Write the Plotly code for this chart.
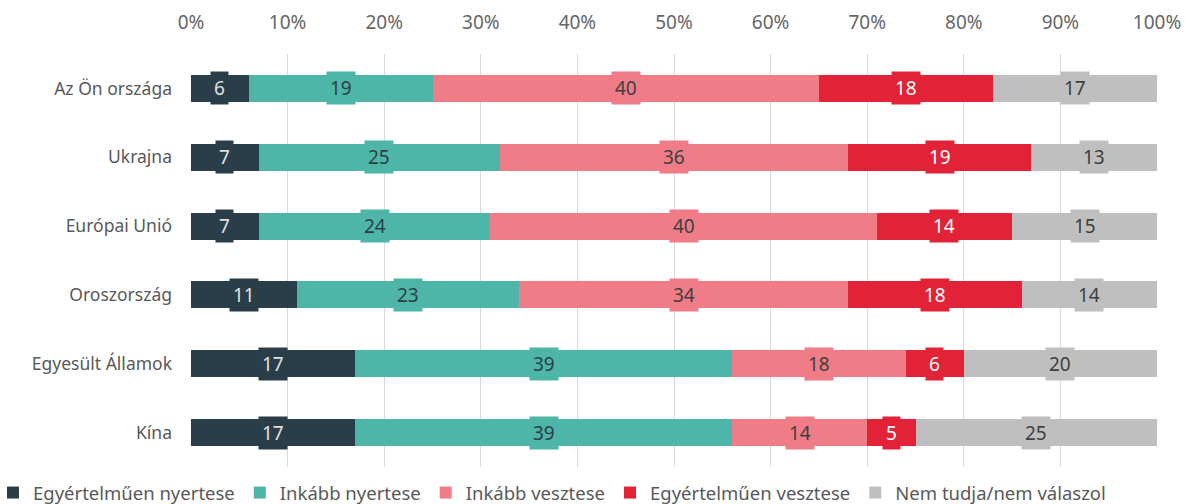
import plotly.graph_objects as go

categories = ["Az Ön országa", "Ukrajna", "Európai Unió", "Oroszország", "Egyesült Államok", "Kína"]

series_names = [
    "Egyértelműen nyertese",
    "Inkább nyertese",
    "Inkább vesztese",
    "Egyértelműen vesztese",
    "Nem tudja/nem válaszol",
]

clear_winner = [6, 7, 7, 11, 17, 17]
rather_winner = [19, 25, 24, 23, 39, 39]
rather_loser = [40, 36, 40, 34, 18, 14]
clear_loser = [18, 19, 14, 18, 6, 5]
no_answer = [17, 13, 15, 14, 20, 25]

tick_values = [0, 10, 20, 30, 40, 50, 60, 70, 80, 90, 100]
tick_labels = ["0%", "10%", "20%", "30%", "40%", "50%", "60%", "70%", "80%", "90%", "100%"]

series_values = [clear_winner, rather_winner, rather_loser, clear_loser, no_answer]
colors = ["#2a3e49", "#4db6a9", "#ef7c87", "#e22237", "#bfbfbf"]
label_colors = ["#e0e0e0", "#2d3e48", "#404040", "#ffffff", "#404040"]

FONT = "Noto Sans"

fig = go.Figure()
for name, vals, col in zip(series_names, series_values, colors):
    fig.add_trace(go.Bar(
        name=name,
        y=categories,
        x=vals,
        orientation="h",
        marker=dict(color=col, line=dict(width=0)),
        width=0.39,
        hoverinfo="x+name",
    ))

# value labels on boxes tinted with the segment colour
annotations = []
for i, cat in enumerate(categories):
    cum = 0
    for s, vals in enumerate(series_values):
        v = vals[i]
        annotations.append(dict(
            x=cum + v / 2, y=cat, xref="x", yref="y",
            text=str(v), showarrow=False,
            font=dict(family=FONT, size=19, color=label_colors[s]),
            bgcolor=colors[s], borderpad=3,
        ))
        cum += v

fig.update_layout(
    barmode="stack",
    width=1191, height=504,
    margin=dict(l=191, r=34, t=54, b=37, autoexpand=False),
    paper_bgcolor="white", plot_bgcolor="white",
    font=dict(family=FONT, color="#595959"),
    annotations=annotations,
    legend=dict(
        orientation="h", x=-0.205, xanchor="left", y=-0.063, yanchor="middle",
        font=dict(family=FONT, size=18.5, color="#595959"),
        traceorder="normal", itemwidth=30,
    ),
    xaxis=dict(
        side="top", range=[0, 100], tickvals=tick_values, ticktext=tick_labels,
        showgrid=True, gridcolor="#d9d9d9", gridwidth=1, zeroline=False,
        showline=False, ticks="", tickfont=dict(size=19, color="#666666"),
        ticklabelstandoff=20, fixedrange=True, automargin=False,
    ),
    yaxis=dict(
        categoryorder="array", categoryarray=categories,
        showgrid=False, zeroline=False, showline=False, ticks="",
        tickfont=dict(size=17.5, color="#595959"), ticklabelstandoff=18,
        range=[5.5, -0.5], automargin=False,
    ),
)

fig.write_html("out.html")
